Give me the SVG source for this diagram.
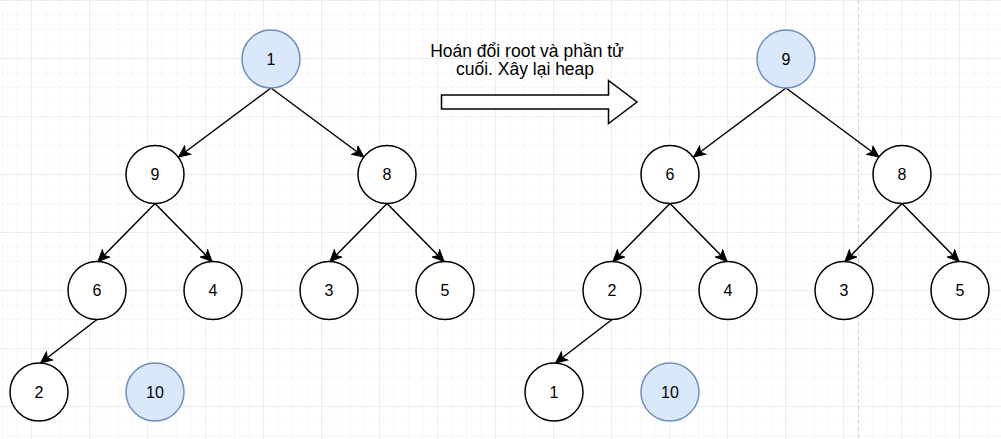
<svg xmlns="http://www.w3.org/2000/svg" width="1001" height="439" viewBox="0 0 1001 439">
  <style>
    .n circle { fill: #ffffff; stroke: #000000; stroke-width: 1.5; }
    .n.hl circle { fill: #dae8fc; stroke: #6c8ebf; }
    .n text { font-family: "Liberation Sans", Arial, sans-serif; font-size: 16px; fill: #000000; text-anchor: middle; dominant-baseline: central; }
    .e line { stroke: #000000; stroke-width: 1.5; marker-end: url(#arr); }
    .lbl { font-family: "Liberation Sans", Arial, sans-serif; font-size: 17.5px; fill: #000000; text-anchor: middle; }
  </style>
  <defs>
    <pattern id="minor" width="14.5" height="14.5" x="2" y="0" patternUnits="userSpaceOnUse">
      <path d="M0 0 H14.5 M0 0 V14.5" fill="none" stroke="#f1f1f1" stroke-width="1"/>
    </pattern>
    <pattern id="major" width="58" height="58" x="31" y="0" patternUnits="userSpaceOnUse">
      <path d="M0 0 H58 M0 0 V58" fill="none" stroke="#e2e2e2" stroke-width="1"/>
    </pattern>
    <marker id="arr" viewBox="-12 -6 13 12" refX="0" refY="0" markerWidth="13" markerHeight="12" markerUnits="userSpaceOnUse" orient="auto">
      <path d="M0 0 L-11.5 -5.2 L-8.5 0 L-11.5 5.2 Z" fill="#000000" stroke="#000000" stroke-width="1"/>
    </marker>
  </defs>

  <g id="background">
    <rect x="0" y="0" width="1001" height="439" fill="#ffffff"/>
    <rect x="0" y="0" width="1001" height="439" fill="url(#minor)"/>
    <rect x="0" y="0" width="1001" height="439" fill="url(#major)"/>
    <line x1="858.5" y1="0" x2="858.5" y2="439" stroke="#cfcfcf" stroke-width="1" stroke-dasharray="4 3"/>
  </g>

  <g id="connectors" class="e">
    <line x1="271" y1="88" x2="178.5" y2="157"/>
    <line x1="271" y1="88" x2="364" y2="157"/>
    <line x1="155" y1="203.5" x2="98" y2="261.5"/>
    <line x1="155" y1="203.5" x2="212" y2="261.5"/>
    <line x1="387" y1="203.5" x2="330" y2="261.5"/>
    <line x1="387" y1="203.5" x2="444" y2="261.5"/>
    <line x1="97" y1="319.5" x2="40.5" y2="363"/>

    <line x1="786" y1="88" x2="693.5" y2="157"/>
    <line x1="786" y1="88" x2="879" y2="157"/>
    <line x1="670" y1="203.5" x2="613" y2="261.5"/>
    <line x1="670" y1="203.5" x2="727" y2="261.5"/>
    <line x1="902" y1="203.5" x2="845" y2="261.5"/>
    <line x1="902" y1="203.5" x2="959" y2="261.5"/>
    <line x1="612" y1="319.5" x2="555.5" y2="363"/>
  </g>

  <g id="swap-arrow">
    <path d="M441.5 95 H608.5 V80.5 L637 102 L608.5 123.5 V109 H441.5 Z" fill="#ffffff" stroke="#000000" stroke-width="1.5" stroke-linejoin="miter"/>
    <text class="lbl" x="527" y="56.5">Hoán đổi root và phần tử</text>
    <text class="lbl" x="525" y="75">cuối. Xây lại heap</text>
  </g>

  <g id="L1" class="n hl"><circle cx="271" cy="59" r="29"/><text x="271" y="59">1</text></g>
  <g id="L9" class="n"><circle cx="155" cy="174.5" r="29"/><text x="155" y="174.5">9</text></g>
  <g id="L8" class="n"><circle cx="387" cy="174.5" r="29"/><text x="387" y="174.5">8</text></g>
  <g id="L6" class="n"><circle cx="97" cy="290.5" r="29"/><text x="97" y="290.5">6</text></g>
  <g id="L4" class="n"><circle cx="213" cy="290.5" r="29"/><text x="213" y="290.5">4</text></g>
  <g id="L3" class="n"><circle cx="329" cy="290.5" r="29"/><text x="329" y="290.5">3</text></g>
  <g id="L5" class="n"><circle cx="445" cy="290.5" r="29"/><text x="445" y="290.5">5</text></g>
  <g id="L2" class="n"><circle cx="39" cy="392" r="29"/><text x="39" y="392">2</text></g>
  <g id="L10" class="n hl"><circle cx="155" cy="392" r="29"/><text x="155" y="392">10</text></g>

  <g id="R9" class="n hl"><circle cx="786" cy="59" r="29"/><text x="786" y="59">9</text></g>
  <g id="R6" class="n"><circle cx="670" cy="174.5" r="29"/><text x="670" y="174.5">6</text></g>
  <g id="R8" class="n"><circle cx="902" cy="174.5" r="29"/><text x="902" y="174.5">8</text></g>
  <g id="R2" class="n"><circle cx="612" cy="290.5" r="29"/><text x="612" y="290.5">2</text></g>
  <g id="R4" class="n"><circle cx="728" cy="290.5" r="29"/><text x="728" y="290.5">4</text></g>
  <g id="R3" class="n"><circle cx="844" cy="290.5" r="29"/><text x="844" y="290.5">3</text></g>
  <g id="R5" class="n"><circle cx="960" cy="290.5" r="29"/><text x="960" y="290.5">5</text></g>
  <g id="R1" class="n"><circle cx="554" cy="392" r="29"/><text x="554" y="392">1</text></g>
  <g id="R10" class="n hl"><circle cx="670" cy="392" r="29"/><text x="670" y="392">10</text></g>
</svg>
